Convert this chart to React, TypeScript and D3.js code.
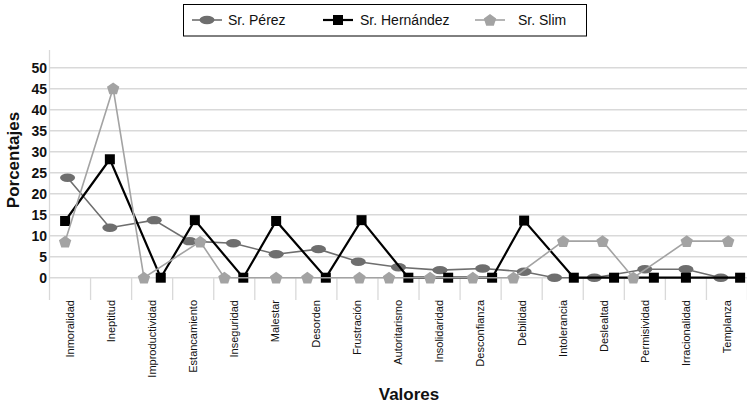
import React from "react";
import * as d3 from "d3";

const categories = [
  "Inmoralidad", "Ineptitud", "Improductividad", "Estancamiento", "Inseguridad",
  "Malestar", "Desorden", "Frustración", "Autoritarismo", "Insolidaridad",
  "Desconfianza", "Debilidad", "Intolerancia", "Deslealtad", "Permisividad",
  "Irracionalidad", "Templanza",
];

const yTicks = [0, 5, 10, 15, 20, 25, 30, 35, 40, 45, 50];

// values (percent)
const perezValues = [23.8, 11.9, 13.7, 8.7, 8.2, 5.6, 6.8, 3.8, 2.5, 1.8, 2.2, 1.4, 0, 0, 2.0, 2.0, 0];
const hernandezValues = [13.5, 28.2, 0, 13.7, 0, 13.5, 0, 13.7, 0, 0, 0, 13.6, 0, 0, 0, 0, 0];
const slimValues = [8.6, 45.1, 0, 8.6, 0, 0, 0, 0, 0, 0, 0, 0, 8.7, 8.7, 0, 8.7, 8.7];

// x position of each point, in category units (as placed in the original)
const perezX = [-0.06, 0.97, 2.05, 2.91, 3.98, 5.02, 6.05, 7.02, 8.0, 9.01, 10.05, 11.06, 11.8, 12.77, 14.0, 15.0, 15.85];
const hernandezX = [-0.12, 0.97, 2.21, 3.04, 4.22, 5.02, 6.23, 7.1, 8.24, 9.21, 10.28, 11.06, 12.27, 13.25, 14.22, 15.0, 16.32];
const slimX = [-0.12, 1.05, 1.8, 3.17, 3.76, 5.02, 5.78, 7.05, 7.77, 8.77, 9.81, 10.8, 12.01, 12.97, 13.72, 15.02, 16.03];

const seriesNames = ["Sr. Pérez", "Sr. Hernández", "Sr. Slim"];

const FONT = "'Liberation Sans', Arial, sans-serif";

function Marker({ kind, x, y, color }: { kind: string; x: number; y: number; color: string }) {
  if (kind === "ellipse") return <ellipse cx={x} cy={y} rx={7.5} ry={4.2} fill={color} />;
  if (kind === "square") return <rect x={x - 5} y={y - 5} width={10} height={10} fill={color} />;
  const r = 6.5;
  const pts = d3.range(5).map((i) => {
    const a = -Math.PI / 2 + (i * 2 * Math.PI) / 5;
    return [x + r * Math.cos(a), y + 0.6 + r * Math.sin(a)];
  });
  return <polygon points={pts.map((p) => p.join(",")).join(" ")} fill={color} />;
}

export default function App() {
  const W = 747, H = 405;
  const x = d3.scaleLinear().domain([-0.5, 16.5]).range([49.5, 747.5]);
  const y = d3.scaleLinear().domain([0, 50]).range([277.7, 67.7]);
  const plotTop = 50;
  const tickBottom = 300;
  const grid = "#d9d9d9";

  const series = [
    { name: seriesNames[0], vals: perezValues, xs: perezX, color: "#6e6e6e", width: 1.6, kind: "ellipse" },
    { name: seriesNames[1], vals: hernandezValues, xs: hernandezX, color: "#000000", width: 2.2, kind: "square" },
    { name: seriesNames[2], vals: slimValues, xs: slimX, color: "#a3a3a3", width: 1.6, kind: "pentagon" },
  ];

  const line = d3.line<[number, number]>().x((d) => x(d[0])).y((d) => y(d[1]));

  const legendItems = [
    { lx: 207, tx: 228 },
    { lx: 338, tx: 360 },
    { lx: 490, tx: 518 },
  ];

  return (
    <svg width={W} height={H} style={{ position: "absolute", left: 0, top: 0 }} fontFamily={FONT}>
      <rect width={W} height={H} fill="#fff" />
      {/* horizontal grid */}
      {yTicks.map((t) => (
        <line key={t} x1={x(-0.5)} x2={W} y1={y(t)} y2={y(t)} stroke={grid} strokeWidth={1.5} />
      ))}
      {/* left axis */}
      <line x1={x(-0.5)} x2={x(-0.5)} y1={plotTop} y2={tickBottom} stroke={grid} strokeWidth={1.3} />
      {/* category separators */}
      {categories.map((c, i) => (
        <line key={c} x1={x(i + 0.5)} x2={x(i + 0.5)} y1={y(0)} y2={tickBottom} stroke={grid} strokeWidth={1.3} />
      ))}
      {/* y tick labels */}
      {yTicks.map((t) => (
        <text key={t} x={47} y={y(t)} dy="0.36em" textAnchor="end" fontSize={14} fontWeight="bold" fill="#111">
          {t}
        </text>
      ))}
      {/* x tick labels */}
      {categories.map((c, i) => (
        <text
          key={c}
          transform={`translate(${x(i)},${tickBottom}) rotate(-90)`}
          dy="0.35em"
          textAnchor="end"
          fontSize={11}
          fill="#111"
        >
          {c}
        </text>
      ))}
      {/* series */}
      {series.map((s) => {
        const pts: [number, number][] = s.vals.map((v, i) => [s.xs[i], v]);
        return (
          <g key={s.name}>
            <path d={line(pts) || ""} fill="none" stroke={s.color} strokeWidth={s.width} strokeLinejoin="miter" />
            {pts.map((p, i) => (
              <Marker key={i} kind={s.kind} x={x(p[0])} y={y(p[1])} color={s.color} />
            ))}
          </g>
        );
      })}
      {/* axis titles */}
      <text transform={`translate(19,160) rotate(-90)`} textAnchor="middle" fontSize={17} fontWeight="bold" fill="#111">
        Porcentajes
      </text>
      <text x={409} y={400} textAnchor="middle" fontSize={17} fontWeight="bold" fill="#111">
        Valores
      </text>
      {/* legend */}
      <rect x={183.5} y={4.5} width={403} height={31.5} fill="#fff" stroke="#000" strokeWidth={1} />
      {series.map((s, i) => (
        <g key={s.name}>
          <line x1={legendItems[i].lx - 15} x2={legendItems[i].lx + 15} y1={20} y2={20} stroke={s.color} strokeWidth={s.width} />
          <Marker kind={s.kind} x={legendItems[i].lx} y={20} color={s.color} />
          <text x={legendItems[i].tx} y={20} dy="0.35em" fontSize={14} fill="#111">
            {s.name}
          </text>
        </g>
      ))}
    </svg>
  );
}
